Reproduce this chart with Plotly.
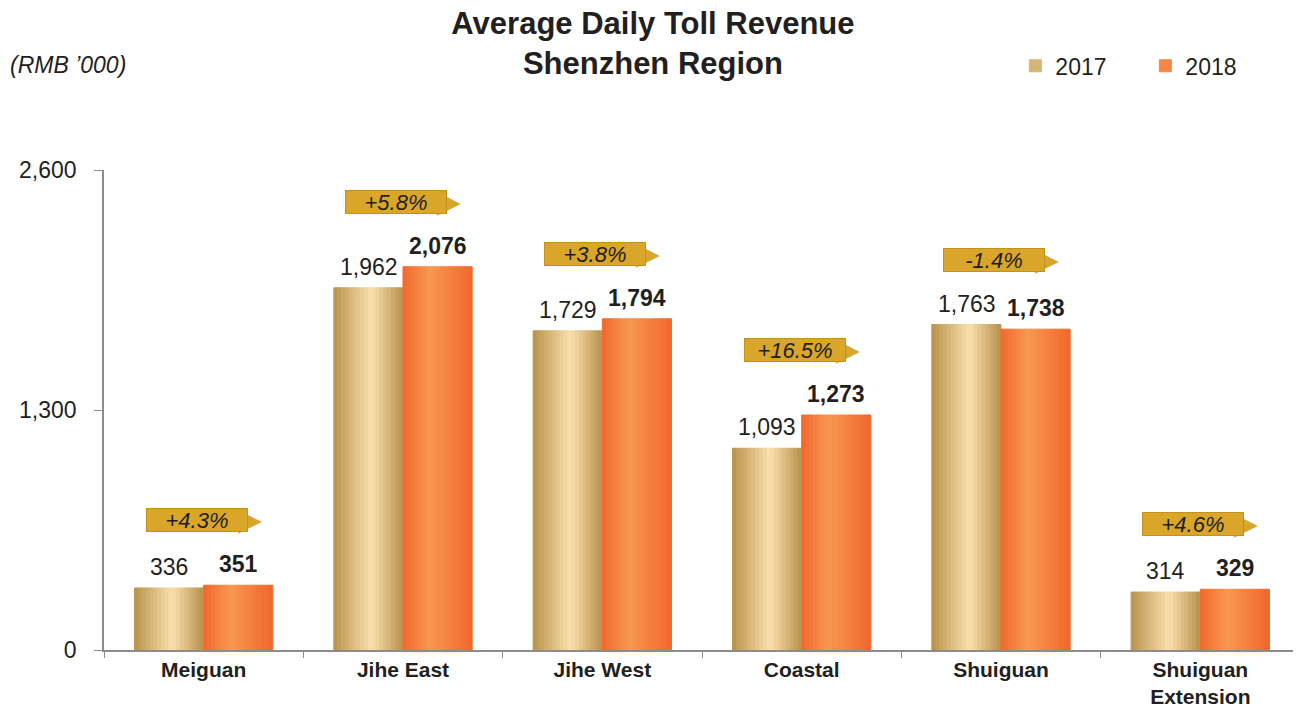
"""Average daily toll revenue, Shenzhen region — gradient bar chart."""
import plotly.graph_objects as go

CATEGORIES = ["Meiguan", "Jihe East", "Jihe West", "Coastal", "Shuiguan", "Shuiguan<br>Extension"]
REV_2017 = [336, 1962, 1729, 1093, 1763, 314]
REV_2018 = [351, 2076, 1794, 1273, 1738, 329]
GROWTH = ["+4.3%", "+5.8%", "+3.8%", "+16.5%", "-1.4%", "+4.6%"]
Y_TICKS = [0, 1300, 2600]

FONT = "Arial, Liberation Sans, sans-serif"
TEXT = "#231f20"
AXIS = "#8c8c8c"
BADGE = "#d9a62a"

# gradient stops across each bar (position 0..1, rgb)
GOLD = [(0.0, (183, 145, 74)), (0.55, (251, 224, 174)), (1.0, (184, 146, 78))]
ORANGE = [(0.0, (241, 104, 46)), (0.4, (247, 152, 80)), (1.0, (241, 103, 44))]

BAR_W = 0.347
STRIPS = 18


def _lerp(stops, t):
    for (p0, c0), (p1, c1) in zip(stops, stops[1:]):
        if p0 <= t <= p1:
            f = (t - p0) / (p1 - p0)
            r, g, b = (round(a + (b_ - a) * f) for a, b_ in zip(c0, c1))
            return f"rgb({r},{g},{b})"
    return f"rgb{stops[-1][1]}"


def gradient_bars(fig, values, name, stops, base):
    sw = BAR_W / STRIPS
    for i in range(STRIPS):
        col = _lerp(stops, (i + 0.5) / STRIPS)
        fig.add_trace(
            go.Bar(
                x=CATEGORIES,
                y=values,
                width=sw,
                offset=base + i * sw,
                name=name,
                legendgroup=name,
                showlegend=(i == STRIPS // 4),
                marker=dict(color=col, line=dict(color=col, width=1)),
                hoverinfo="skip",
            )
        )


fig = go.Figure()
gradient_bars(fig, REV_2017, "2017", GOLD, -BAR_W)
gradient_bars(fig, REV_2018, "2018", ORANGE, 0)

for cat, v17, v18, g in zip(CATEGORIES, REV_2017, REV_2018, GROWTH):
    fig.add_annotation(x=cat, y=v17, text=f"{v17:,}", showarrow=False, yanchor="bottom",
                       xshift=-34.5, yshift=6, font=dict(size=23, color=TEXT, family=FONT))
    fig.add_annotation(x=cat, y=v18, text=f"<b>{v18:,}</b>", showarrow=False, yanchor="bottom",
                       xshift=34.5, yshift=6, font=dict(size=23, color=TEXT, family=FONT))
    top = max(v17, v18)
    fig.add_annotation(x=cat, y=top, text="▶", showarrow=False, yanchor="bottom",
                       xshift=46, yshift=46, font=dict(size=31, color=BADGE, family="DejaVu Sans"))
    fig.add_annotation(x=cat, y=top, text=f"<i>{g}</i>", showarrow=False, yanchor="bottom",
                       xshift=-7, yshift=53, width=100, height=22,
                       bgcolor=BADGE, bordercolor="#c1921f", borderwidth=1, borderpad=0,
                       font=dict(size=22, color="#1e1e1e", family=FONT))

fig.add_annotation(xref="paper", yref="paper", x=-0.0803, y=1.218, xanchor="left", yanchor="middle",
                   text="<i>(RMB ’000)</i>", showarrow=False,
                   font=dict(size=23, color=TEXT, family=FONT))

# page body keeps an 8px margin, so the figure is sized to fit the window
fig.update_layout(
    width=1293,
    height=703,
    barmode="overlay",
    paper_bgcolor="white",
    plot_bgcolor="white",
    margin=dict(l=96, r=1, t=162, b=61, autoexpand=False),
    font=dict(family=FONT, color=TEXT),
    title=dict(
        text="<b>Average Daily Toll Revenue<br>Shenzhen Region</b>",
        x=0.4988, xanchor="center", y=0.963, yanchor="top",
        font=dict(size=31, color=TEXT, family=FONT),
    ),
    legend=dict(
        orientation="h", x=0.762, y=1.217, xanchor="left", yanchor="middle",
        font=dict(size=23, color=TEXT, family=FONT),
        entrywidth=85, entrywidthmode="pixels", itemwidth=30,
        bgcolor="rgba(0,0,0,0)",
    ),
    xaxis=dict(
        type="category", showline=True, linecolor=AXIS, linewidth=1.5,
        ticks="outside", tickson="boundaries", ticklen=6, tickcolor=AXIS,
        tickfont=dict(size=21, color=TEXT, family=FONT), tickprefix="<b>", ticksuffix="</b>",
        showgrid=False, fixedrange=True,
    ),
    yaxis=dict(
        range=[0, 2600], tickvals=Y_TICKS, ticktext=[f"{t:,}" for t in Y_TICKS],
        showline=True, linecolor=AXIS, linewidth=1.5,
        ticks="outside", ticklen=8, tickcolor=AXIS, ticklabelstandoff=13,
        tickfont=dict(size=23, color=TEXT, family=FONT),
        showgrid=False, zeroline=False, fixedrange=True,
    ),
)

fig.write_html("out.html")
